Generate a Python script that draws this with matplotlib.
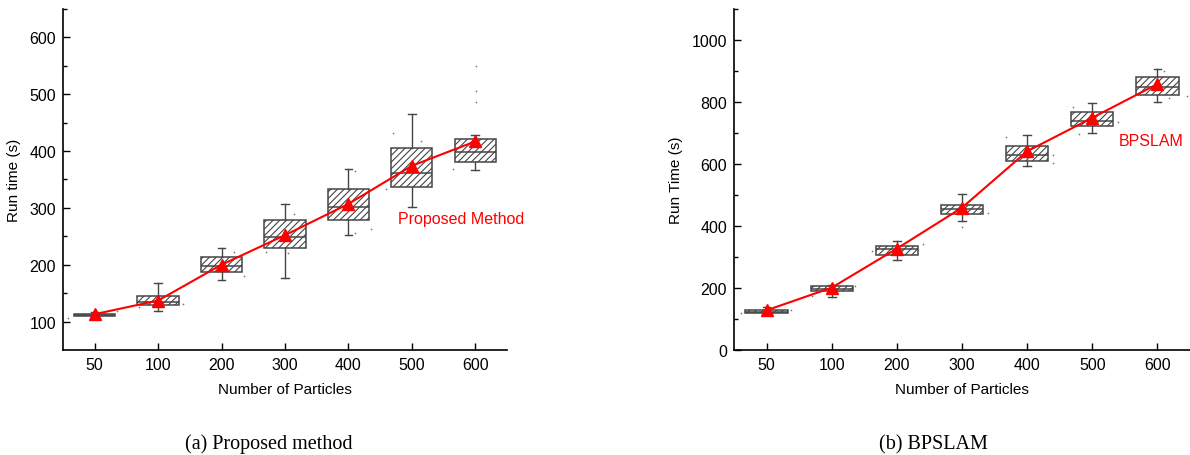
import matplotlib
matplotlib.use("Agg")
import matplotlib.pyplot as plt
import numpy as np

plt.rcParams['font.family'] = ['Liberation Sans', 'DejaVu Sans']
plt.rcParams['hatch.linewidth'] = 0.8

categories = ["50", "100", "200", "300", "400", "500", "600"]

# (a) Proposed method
a_q1 = [109, 129, 187, 230, 278, 337, 381]
a_med = [111, 135, 197, 248, 302, 362, 399]
a_q3 = [114, 145, 213, 278, 334, 405, 421]
a_lo = [107, 119, 173, 177, 252, 302, 367]
a_hi = [116, 167, 230, 306, 368, 466, 429]
a_mean = [113, 137, 200, 252, 307, 374, 417]
a_dots_cat = [0, 0, 1, 1, 2, 2, 3, 3, 3, 4, 4, 4, 5, 5, 5, 6, 6, 6, 6]
a_dots_val = [107, 118, 125, 131, 222, 180, 290, 220, 222, 365, 262, 255, 432, 418, 334, 549, 505, 487, 369]
a_dots_off = [-0.42, 0.35, -0.3, 0.4, 0.2, 0.35, 0.15, 0.05, -0.3, 0.1, 0.35, 0.1, -0.3, 0.15, -0.4, 0.02, 0.02, 0.02, -0.35]

# (b) BPSLAM
b_q1 = [119, 190, 306, 439, 611, 724, 823]
b_med = [124, 198, 325, 454, 630, 739, 849]
b_q3 = [130, 207, 336, 468, 659, 768, 879]
b_lo = [116, 170, 290, 415, 594, 699, 800]
b_hi = [138, 210, 351, 502, 693, 796, 906]
b_mean = [128, 201, 327, 459, 641, 749, 858]
b_dots_cat = [0, 0, 1, 1, 2, 2, 3, 3, 3, 4, 4, 4, 5, 5, 5, 6, 6, 6]
b_dots_val = [120, 128, 175, 205, 342, 318, 472, 396, 442, 688, 603, 628, 785, 698, 736, 900, 812, 820]
b_dots_off = [-0.4, 0.38, -0.3, 0.35, 0.4, -0.38, -0.3, 0.0, 0.4, -0.33, 0.4, 0.4, -0.3, -0.2, 0.4, 0.1, 0.18, 0.45]


def draw(ax, q1, med, q3, lo, hi, mean, dcat, dval, doff, ylim, major, minor, ylabel, label, label_xy):
    stats = []
    for i in range(len(categories)):
        stats.append(dict(q1=q1[i], med=med[i], q3=q3[i], whislo=lo[i], whishi=hi[i],
                          mean=mean[i], fliers=[], label=categories[i]))
    pos = np.arange(len(categories))
    ax.bxp(stats, positions=pos, widths=0.65, patch_artist=True, showmeans=False,
           showfliers=False,
           boxprops=dict(facecolor='white', edgecolor='#454545', linewidth=1.1, hatch='/////'),
           medianprops=dict(color='#454545', linewidth=1.1),
           whiskerprops=dict(color='#454545', linewidth=1.0),
           capprops=dict(color='#454545', linewidth=1.0),
           capwidths=0.12)
    ax.scatter(np.array(dcat) + np.array(doff), dval, s=1.5, color='#777777', zorder=3, linewidths=0)
    ax.plot(pos, mean, color='#ff0000', lw=1.5, marker='^', markersize=8.5,
            markerfacecolor='#ff0000', markeredgecolor='#ff0000', zorder=5)
    ax.set_xlim(-0.5, 6.5)
    ax.set_ylim(*ylim)
    ax.set_xticks(pos)
    ax.set_xticklabels(categories)
    ax.set_yticks(major)
    ax.set_yticks(minor, minor=True)
    for s in ['top', 'right']:
        ax.spines[s].set_visible(False)
    for s in ['left', 'bottom']:
        ax.spines[s].set_linewidth(1.2)
    ax.tick_params(axis='both', which='major', direction='in', length=5, width=1.0,
                   labelsize=11.5, pad=5)
    ax.tick_params(axis='y', which='minor', direction='in', length=3, width=1.0)
    ax.set_xlabel("Number of Particles", fontsize=11, labelpad=7)
    ax.set_ylabel(ylabel, fontsize=11, labelpad=6)
    ax.text(label_xy[0], label_xy[1], label, color='#ff0000', fontsize=11.5,
            ha='center', va='center')


fig = plt.figure(figsize=(11.9, 4.56), dpi=100)
ax1 = fig.add_axes([0.0529, 0.2303, 0.3731, 0.7478])
ax2 = fig.add_axes([0.6168, 0.2303, 0.3832, 0.7478])

draw(ax1, a_q1, a_med, a_q3, a_lo, a_hi, a_mean, a_dots_cat, a_dots_val, a_dots_off,
     (50, 650), [100, 200, 300, 400, 500, 600], [150, 250, 350, 450, 550, 650],
     "Run time (s)", "Proposed Method", (5.77, 282))
draw(ax2, b_q1, b_med, b_q3, b_lo, b_hi, b_mean, b_dots_cat, b_dots_val, b_dots_off,
     (0, 1100), [0, 200, 400, 600, 800, 1000], [100, 300, 500, 700, 900, 1100],
     "Run Time (s)", "BPSLAM", (5.91, 677))

fig.text(269 / 1190, 1 - 449 / 456, "(a) Proposed method", family='Liberation Serif',
         fontsize=14.5, ha='center', va='baseline')
fig.text(933 / 1190, 1 - 449 / 456, "(b) BPSLAM", family='Liberation Serif',
         fontsize=14.5, ha='center', va='baseline')

fig.savefig("out.png", dpi=100)
